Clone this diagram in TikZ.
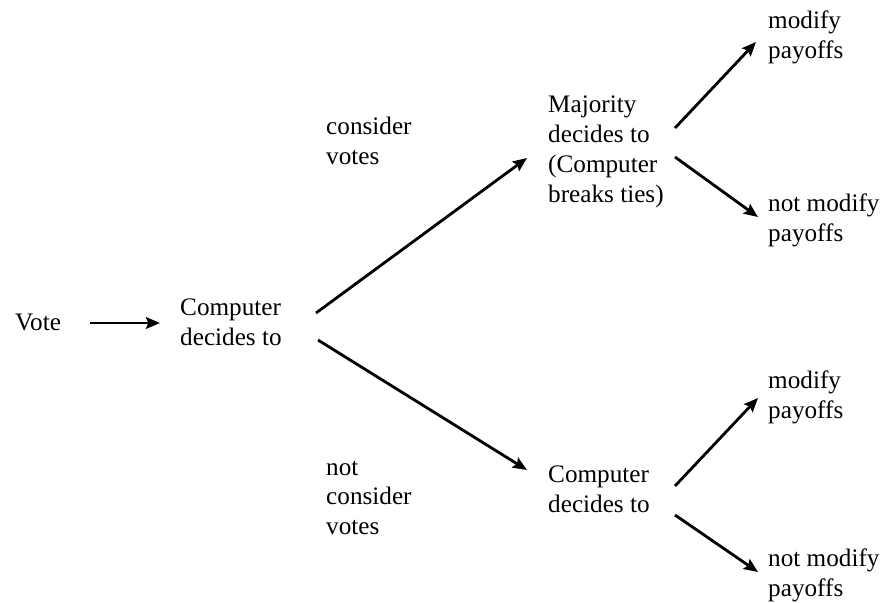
\documentclass[tikz,border=0pt]{standalone}
\usepackage{fontspec}
\setmainfont{Liberation Serif}
\usetikzlibrary{arrows.meta}
\begin{document}
\begin{tikzpicture}[x=0.03cm,y=-0.03cm,
    txt/.style={anchor=west,align=left,inner sep=0pt,font=\fontsize{21.5}{25.5}\selectfont},
    arr/.style={-{Stealth[length=12pt,width=10pt,inset=2pt]},line width=2.4pt}]
   \useasboundingbox (0,0) rectangle (882,602);
   % labels
   \node[txt] (vote) at (15,322) {Vote};
   \node[txt] (comp) at (180,322) {Computer\\decides to};
   \node[txt] (cons) at (326,141) {consider\\votes};
   \node[txt] (notcons) at (326,498) {not\\consider\\votes};
   \node[txt] (maj) at (548,152) {Majority\\decides to\\(Computer\\breaks ties)};
   \node[txt] (comptwo) at (548,489) {Computer\\decides to};
   \node[txt] (modone) at (768,37) {modify\\payoffs};
   \node[txt] (notmodone) at (768,220) {not modify\\payoffs};
   \node[txt] (modtwo) at (768,397) {modify\\payoffs};
   \node[txt] (notmodtwo) at (768,575) {not modify\\payoffs};

   % arrows
   \draw[arr] ([shift={(75,1)}]vote.west) -- ([shift={(-20,1)}]comp.west);
   \draw[arr] ([shift={(136,-9)}]comp.west) -- ([shift={(-21,6)}]maj.west);
   \draw[arr] ([shift={(138,18)}]comp.west) -- ([shift={(-21,-19)}]comptwo.west);
   \draw[arr] ([shift={(127,-24)}]maj.west) -- ([shift={(-12,5)}]modone.west);
   \draw[arr] ([shift={(127,5)}]maj.west) -- ([shift={(-10,-3)}]notmodone.west);
   \draw[arr] ([shift={(127,-3)}]comptwo.west) -- ([shift={(-10,1)}]modtwo.west);
   \draw[arr] ([shift={(127,26)}]comptwo.west) -- ([shift={(-10,-3)}]notmodtwo.west);
\end{tikzpicture}
\end{document}
